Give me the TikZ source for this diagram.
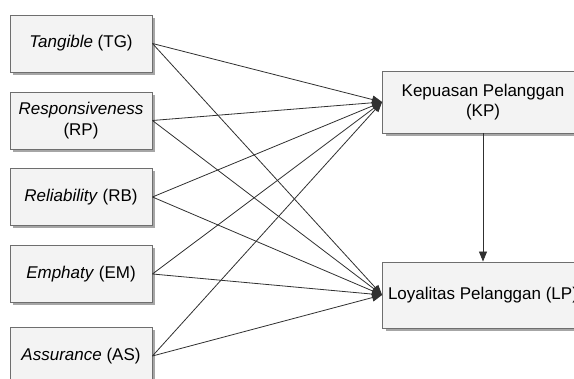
\documentclass[tikz,border=0pt]{standalone}
\usepackage{fontspec}
\setmainfont{Liberation Sans}
\usetikzlibrary{arrows.meta,shadows}
\definecolor{boxfill}{HTML}{F3F3F3}
\definecolor{boxline}{HTML}{6E6E6E}
\definecolor{edgecol}{HTML}{303030}
\begin{document}
\begin{tikzpicture}[x=1pt,y=-1pt,
  varbox/.style={draw=boxline, line width=0.9pt, fill=boxfill, inner sep=2pt, align=center,
    font=\fontsize{17}{20.5}\selectfont,
    drop shadow={shadow xshift=3pt, shadow yshift=-3pt, fill=black!35, opacity=1}},
  leftbox/.style={varbox, minimum width=142pt, minimum height=57pt},
  rightbox/.style={varbox, minimum width=201pt},
  link/.style={draw=edgecol, line width=0.8pt, -{Triangle[length=10pt,width=8pt]}}]
\useasboundingbox (0,0) rectangle (574,379);
\clip (0,0) rectangle (574,379);
\node[leftbox] (tg) at (81,43.5) {\textit{Tangible} (TG)};
\node[leftbox] (rp) at (81,120.5) {\textit{Responsiveness}\\(RP)};
\node[leftbox] (rb) at (81,197) {\textit{Reliability} (RB)};
\node[leftbox] (em) at (81,274) {\textit{Emphaty} (EM)};
\node[leftbox] (as) at (81,356) {\textit{Assurance} (AS)};
\node[rightbox, minimum height=62pt] (kp) at (483,102) {Kepuasan Pelanggan\\(KP)};
\node[rightbox, minimum height=66pt] (lp) at (483,295) {Loyalitas Pelanggan (LP)};
\foreach \s in {tg,rp,rb,em,as}{
  \draw[link] (\s.east) -- (kp.west);
  \draw[link] (\s.east) -- (lp.west);
}
\draw[link] (kp.south) -- (lp.north);
\end{tikzpicture}
\end{document}
